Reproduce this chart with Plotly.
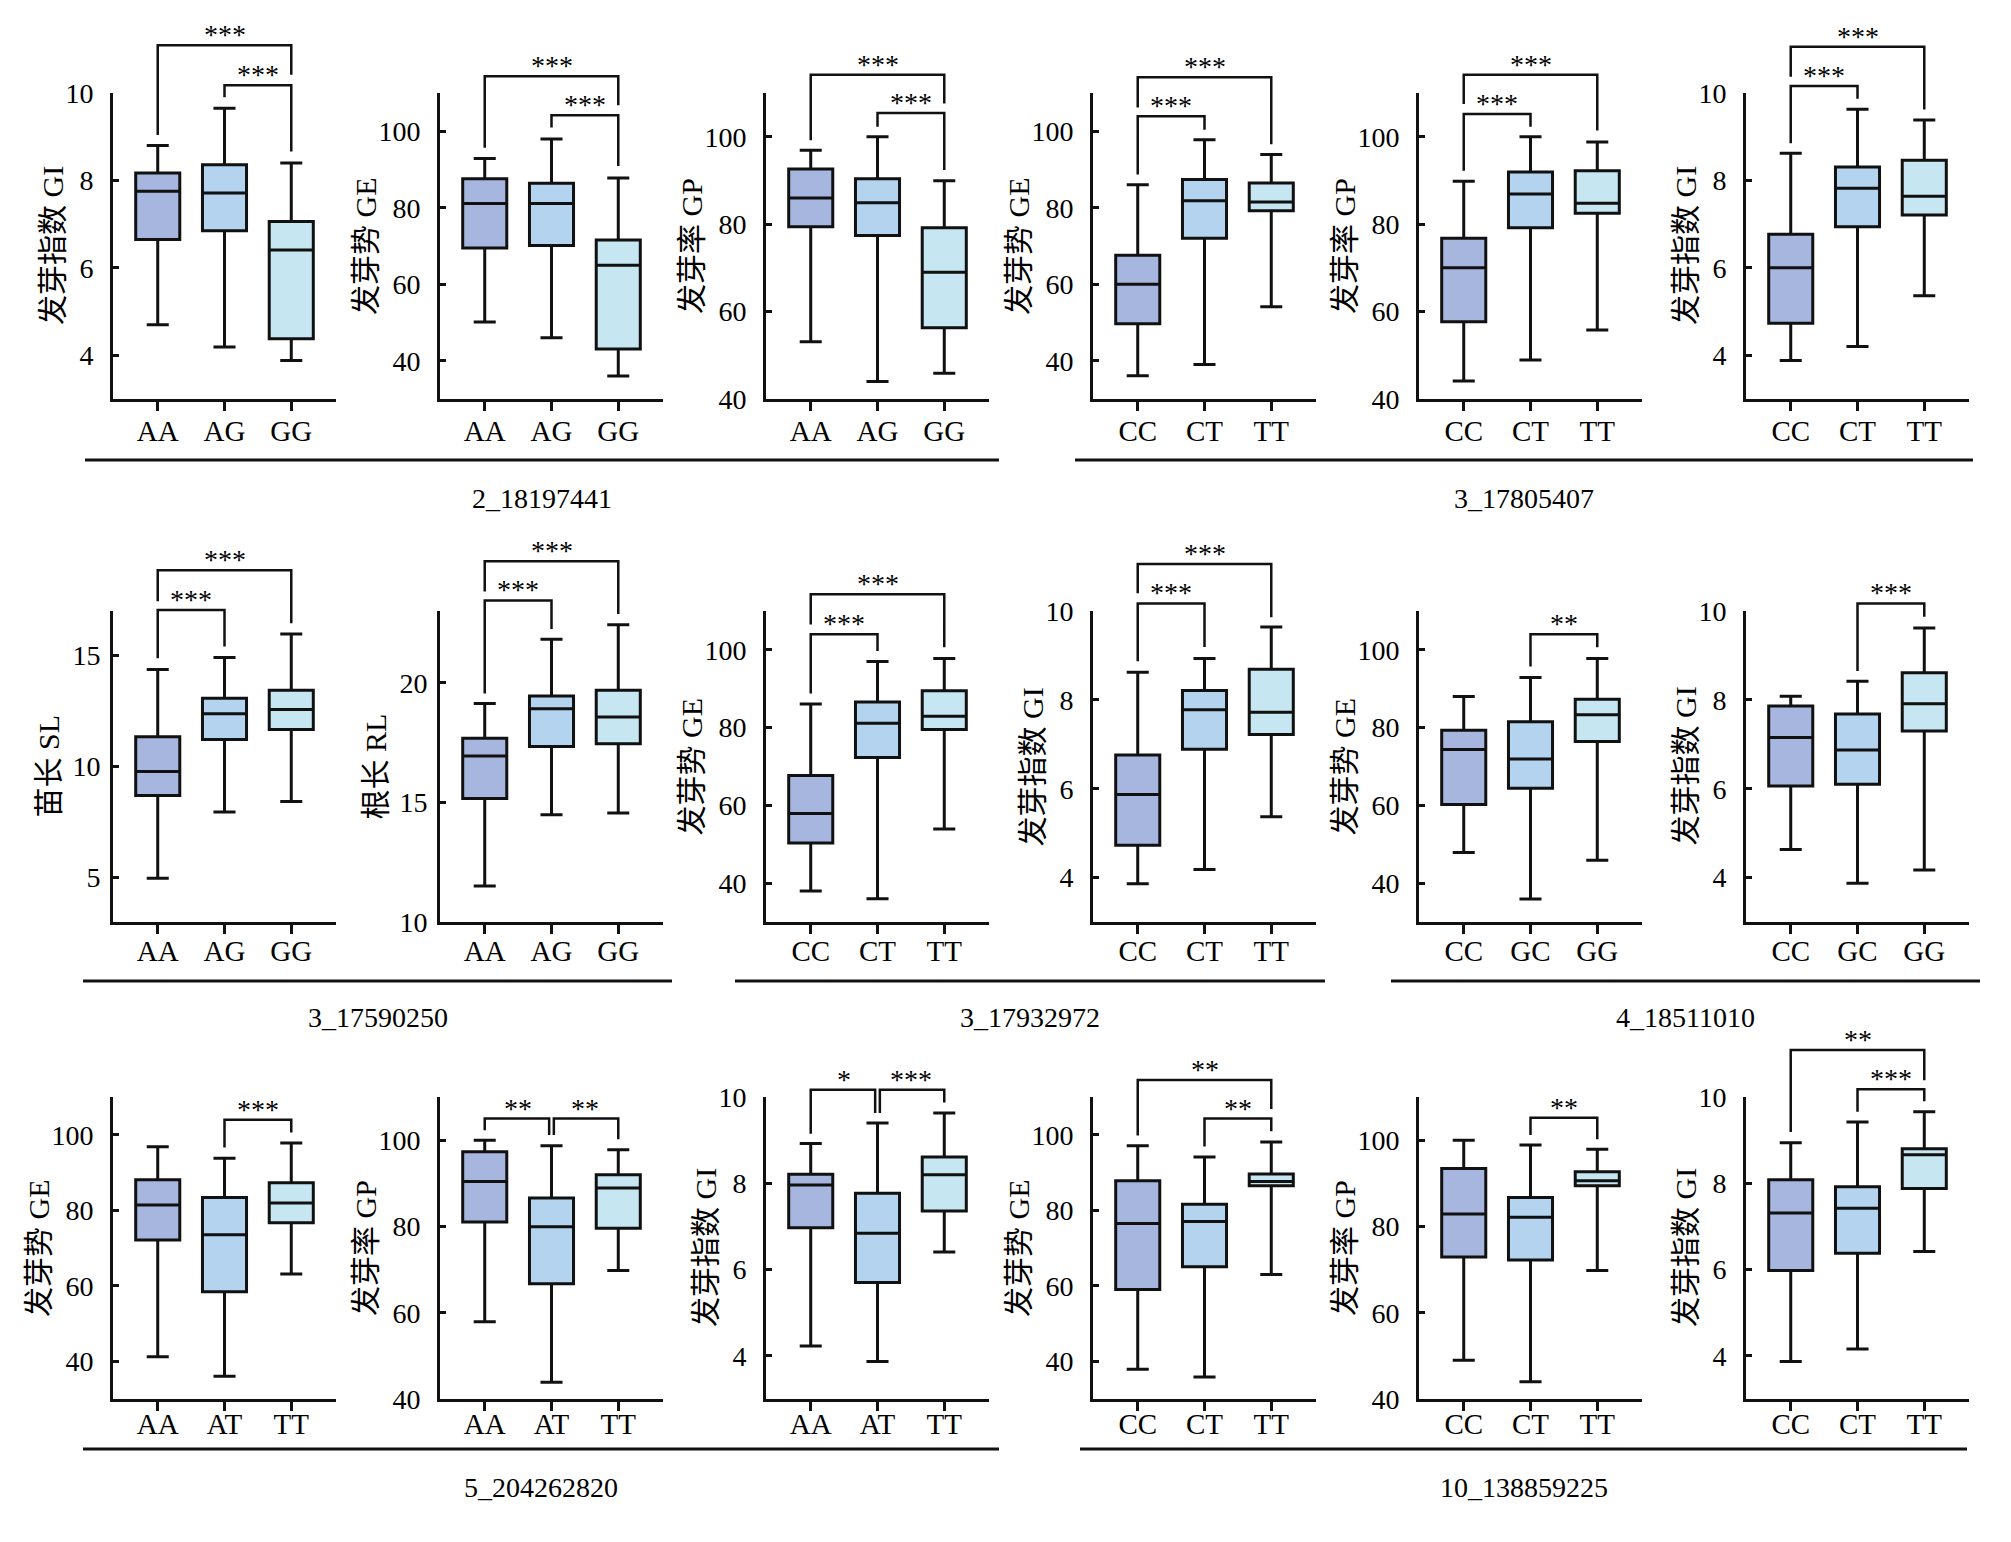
import plotly.graph_objects as go

W, H = 2011, 1542

# ---- data (one triplet per panel, left->right, top->bottom) ----
genotypes = [
    ["AA", "AG", "GG"], ["AA", "AG", "GG"], ["AA", "AG", "GG"],
    ["CC", "CT", "TT"], ["CC", "CT", "TT"], ["CC", "CT", "TT"],
    ["AA", "AG", "GG"], ["AA", "AG", "GG"], ["CC", "CT", "TT"],
    ["CC", "CT", "TT"], ["CC", "GC", "GG"], ["CC", "GC", "GG"],
    ["AA", "AT", "TT"], ["AA", "AT", "TT"], ["AA", "AT", "TT"],
    ["CC", "CT", "TT"], ["CC", "CT", "TT"], ["CC", "CT", "TT"],
]
traits = ["GI", "GE", "GP", "GE", "GP", "GI",
          "SL", "RL", "GE", "GI", "GE", "GI",
          "GE", "GP", "GI", "GE", "GP", "GI"]
trait_titles = {"GI": "发芽指数 GI", "GE": "发芽势 GE", "GP": "发芽率 GP",
                "SL": "苗长 SL", "RL": "根长 RL"}
trait_ranges = {"GI": [3, 10], "GE": [30, 110], "GP": [40, 110],
                "SL": [3, 17], "RL": [10, 23]}
trait_dtick = {"GI": 2, "GE": 20, "GP": 20, "SL": 5, "RL": 5}

lower_fence = [
    [4.70, 4.19, 3.88], [50.1, 46.0, 36.0], [53.1, 44.0, 45.9],
    [36.1, 39.0, 54.1], [44.1, 48.9, 55.8], [3.88, 4.20, 5.36],
    [4.97, 7.95, 8.42], [11.51, 14.48, 14.56], [38.0, 36.0, 53.9],
    [3.86, 4.18, 5.37], [47.9, 35.9, 45.9], [4.63, 3.87, 4.17],
    [41.2, 36.0, 63.1], [57.9, 43.9, 69.8], [4.23, 3.87, 6.41],
    [37.9, 35.8, 63.0], [49.0, 44.0, 69.8], [3.87, 4.16, 6.42],
]
q1 = [
    [6.65, 6.85, 4.38], [69.5, 70.1, 43.1], [79.4, 77.4, 56.3],
    [49.7, 72.0, 79.2], [57.7, 79.2, 82.5], [4.73, 6.94, 7.21],
    [8.69, 11.22, 11.66], [15.16, 17.34, 17.45], [50.3, 72.3, 79.5],
    [4.73, 6.89, 7.22], [60.2, 64.4, 76.4], [6.06, 6.10, 7.30],
    [72.1, 58.4, 76.7], [81.0, 66.7, 79.6], [6.97, 5.70, 7.36],
    [59.0, 65.0, 86.5], [72.9, 72.2, 89.4], [5.98, 6.38, 7.88],
]
median = [
    [7.75, 7.71, 6.41], [81.1, 81.1, 65.0], [86.0, 84.9, 69.0],
    [60.0, 81.8, 81.5], [70.0, 86.9, 84.8], [6.00, 7.82, 7.64],
    [9.78, 12.38, 12.57], [16.94, 18.91, 18.57], [57.9, 81.1, 82.9],
    [5.87, 7.78, 7.72], [74.4, 71.9, 83.3], [7.15, 6.87, 7.91],
    [81.4, 73.5, 81.9], [90.4, 79.9, 88.9], [7.96, 6.84, 8.20],
    [76.5, 77.0, 87.6], [82.9, 82.1, 90.6], [7.31, 7.42, 8.66],
]
q3 = [
    [8.17, 8.36, 7.06], [87.6, 86.4, 71.6], [92.6, 90.4, 79.2],
    [67.6, 87.4, 86.5], [76.8, 91.9, 92.2], [6.77, 8.31, 8.46],
    [11.34, 13.07, 13.43], [17.68, 19.45, 19.69], [67.7, 86.6, 89.5],
    [6.76, 8.21, 8.69], [79.3, 81.5, 87.3], [7.86, 7.68, 8.61],
    [88.1, 83.4, 87.3], [97.3, 86.6, 92.0], [8.21, 7.77, 8.61],
    [87.8, 81.6, 89.6], [93.4, 86.7, 92.7], [8.08, 7.92, 8.80],
]
upper_fence = [
    [8.80, 9.65, 8.40], [92.9, 98.0, 87.8], [96.9, 100.0, 89.9],
    [86.0, 97.8, 93.9], [89.8, 100.0, 98.8], [8.62, 9.63, 9.38],
    [14.37, 14.91, 15.97], [19.13, 21.82, 22.43], [86.1, 97.0, 97.8],
    [8.62, 8.93, 9.64], [88.0, 92.9, 97.8], [8.08, 8.42, 9.62],
    [96.8, 93.8, 97.8], [100.0, 98.7, 97.8], [8.92, 9.40, 9.63],
    [97.1, 94.1, 98.1], [100.0, 98.9, 97.9], [8.94, 9.42, 9.66],
]

# significance brackets: (from, to, bar height, left leg end, right leg end, label)
brackets = [
    [(0, 2, 11.09, 9.04, 10.42, "***"), (1, 2, 10.18, 9.90, 8.66, "***")],
    [(0, 2, 114.4, 95.7, 106.8, "***"), (1, 2, 104.2, 101.0, 90.9, "***")],
    [(0, 2, 114.2, 99.2, 107.6, "***"), (1, 2, 105.4, 102.3, 92.4, "***")],
    [(0, 2, 114.1, 106.2, 96.6, "***"), (0, 1, 103.9, 88.7, 100.4, "***")],
    [(0, 2, 114.2, 107.5, 101.4, "***"), (0, 1, 105.2, 92.2, 102.3, "***")],
    [(0, 2, 11.06, 10.37, 9.62, "***"), (0, 1, 10.16, 8.85, 9.87, "***")],
    [(0, 2, 18.84, 17.44, 16.45, "***"), (0, 1, 17.04, 14.87, 15.40, "***")],
    [(0, 2, 25.08, 23.82, 22.87, "***"), (0, 1, 23.44, 19.55, 22.25, "***")],
    [(0, 2, 114.3, 106.5, 100.7, "***"), (0, 1, 104.0, 88.8, 99.7, "***")],
    [(0, 2, 11.06, 10.40, 9.86, "***"), (0, 1, 10.17, 8.87, 9.19, "***")],
    [(1, 2, 104.0, 95.7, 100.7, "**")],
    [(1, 2, 10.17, 8.65, 9.87, "***")],
    [(1, 2, 104.0, 96.6, 100.6, "***")],
    [(0, 1, 105.0, 102.3, 101.2, "**"), (1, 2, 105.0, 101.2, 100.2, "**")],
    [(0, 1, 10.17, 9.15, 9.63, "*"), (1, 2, 10.17, 9.63, 9.87, "***")],
    [(0, 2, 114.5, 99.8, 106.8, "**"), (1, 2, 104.3, 96.9, 100.9, "**")],
    [(1, 2, 105.2, 101.2, 100.2, "**")],
    [(0, 2, 11.09, 9.19, 10.39, "**"), (1, 2, 10.18, 9.66, 9.90, "***")],
]

# SNP groups: row, x extent of the underline (px), label
snp_groups = [
    (0, 85, 999, "2_18197441"), (0, 1075, 1973, "3_17805407"),
    (1, 83, 672, "3_17590250"), (1, 735, 1325, "3_17932972"), (1, 1391, 1980, "4_18511010"),
    (2, 83, 999, "5_204262820"), (2, 1080, 1967, "10_138859225"),
]

box_colors = ["#A6B6DE", "#B3D3EE", "#C6E6F2"]
SERIF = "Liberation Serif, Times New Roman, Noto Sans CJK SC"

# ---- layout geometry (pixels); the page body adds an 8px margin ----
OFF = 8
axis_left = [113, 440, 766, 1093, 1419, 1746]
axis_w = 223
rows_px = [(93, 399), (611, 922), (1097, 1399)]
line_y = [460, 981, 1449]
label_y = [499, 1017, 1487]
xlabel_standoff = [-5, -8, -12]
ylabel_standoff = {"GI": 11, "GE": 11, "GP": 11, "SL": 4, "RL": 4}
title_offset = {"GI": 61, "GE": 75, "GP": 75, "SL": 65, "RL": 65}


def px_x(v):
    return (v - OFF) / W


def px_y(v):
    return 1 - (v - OFF) / H


fig = go.Figure()
layout = dict(
    width=W, height=H, template="none",
    margin=dict(l=0, r=0, t=0, b=0),
    paper_bgcolor="white", plot_bgcolor="white",
    showlegend=False, boxmode="overlay",
    font=dict(family=SERIF, size=28, color="black"),
)
shapes = []
annotations = []

for k in range(18):
    row, col = divmod(k, 6)
    n = k + 1
    xn = "x" if n == 1 else f"x{n}"
    yn = "y" if n == 1 else f"y{n}"
    t = traits[k]
    for g in range(3):
        fig.add_trace(go.Box(
            x=[g], q1=[q1[k][g]], median=[median[k][g]], q3=[q3[k][g]],
            lowerfence=[lower_fence[k][g]], upperfence=[upper_fence[k][g]],
            width=0.66, whiskerwidth=0.5, fillcolor=box_colors[g],
            line=dict(color="#111111", width=3), boxpoints=False,
            xaxis=xn, yaxis=yn, hoverinfo="skip",
        ))
    lo, hi = trait_ranges[t]
    top, bot = rows_px[row]
    layout[f"xaxis{n}"] = dict(
        domain=[px_x(axis_left[col]), px_x(axis_left[col] + axis_w)],
        anchor=yn, range=[-0.67, 2.67], tickvals=[0, 1, 2], ticktext=genotypes[k],
        showline=True, linewidth=3, linecolor="#111111", showgrid=False, zeroline=False,
        ticks="outside", ticklen=9, tickwidth=3, tickcolor="#111111",
        ticklabelstandoff=xlabel_standoff[row], tickfont=dict(size=29, family=SERIF),
    )
    layout[f"yaxis{n}"] = dict(
        domain=[px_y(bot), px_y(top)], anchor=xn, range=[lo, hi],
        tick0=0, dtick=trait_dtick[t],
        showline=True, linewidth=3, linecolor="#111111", showgrid=False, zeroline=False,
        ticks="inside", ticklen=6, tickwidth=3, tickcolor="#111111",
        ticklabelstandoff=ylabel_standoff[t], tickfont=dict(size=28, family=SERIF),
    )

    # y-axis title, placed by hand so it sits as close to the labels as in the original
    annotations.append(dict(
        xref="paper", yref="paper",
        x=px_x(axis_left[col] - title_offset[t]), y=px_y((top + bot) / 2),
        text=trait_titles[t], textangle=-90, showarrow=False,
        xanchor="center", yanchor="middle",
        font=dict(size=30, family=SERIF, color="black"),
    ))

    # significance brackets (y expressed as fraction of the y-axis domain)
    def frac(v):
        return (v - lo) / (hi - lo)

    ends_right = {b[1] for b in brackets[k]}
    ends_left = {b[0] for b in brackets[k]}
    shared = ends_right & ends_left
    for i, j, yt, yl, yr, lab in brackets[k]:
        xi = i + (0.035 if i in shared else 0)
        xj = j - (0.035 if j in shared else 0)
        shapes.append(dict(
            type="path", xref=xn, yref=f"{yn} domain",
            path=f"M {xi},{frac(yl)} L {xi},{frac(yt)} L {xj},{frac(yt)} L {xj},{frac(yr)}",
            line=dict(color="#111111", width=2.5),
        ))
        annotations.append(dict(
            xref=xn, yref=f"{yn} domain", x=(i + j) / 2, y=frac(yt),
            text=lab, showarrow=False, xanchor="center", yanchor="bottom",
            yshift=-7, font=dict(size=28, family=SERIF, color="black"),
        ))

for row, x0, x1, name in snp_groups:
    shapes.append(dict(type="line", xref="paper", yref="paper",
                       x0=px_x(x0), x1=px_x(x1), y0=px_y(line_y[row]), y1=px_y(line_y[row]),
                       line=dict(color="#111111", width=3)))
    annotations.append(dict(xref="paper", yref="paper", x=px_x((x0 + x1) / 2),
                            y=px_y(label_y[row]), text=name, showarrow=False,
                            xanchor="center", yanchor="middle",
                            font=dict(size=28, family=SERIF, color="black")))

layout["shapes"] = shapes
layout["annotations"] = annotations
fig.update_layout(**layout)
fig.write_html("out.html")
